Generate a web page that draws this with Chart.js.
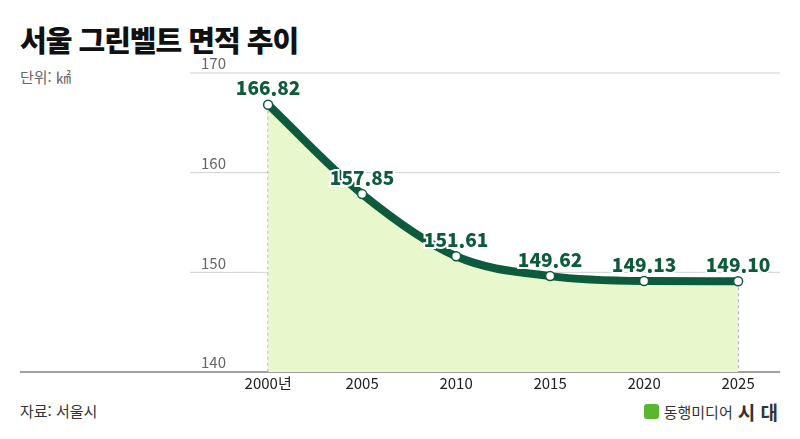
<!DOCTYPE html>
<html lang="ko">
<head>
<meta charset="UTF-8">
<script src="https://cdn.jsdelivr.net/npm/chart.js"></script>
<style>
  body { margin: 0; width: 800px; height: 439px; background: #fff; font-family: "Noto Sans CJK KR", "Noto Sans", sans-serif; position: relative; overflow: hidden; }
  .title { position: absolute; left: 20px; top: 18px; font-size: 29px; font-weight: 900; color: #111; letter-spacing: -1px; }
  .unit { position: absolute; left: 20px; top: 66px; font-size: 15px; color: #666; }
  .source { position: absolute; left: 20px; top: 400px; font-size: 15px; color: #333; }
  .logo { position: absolute; right: 22px; top: 398px; font-size: 15px; color: #333; display: flex; align-items: center; gap: 5px; }
  .logo b { font-size: 19px; }
  .logo i { display: inline-block; width: 15px; height: 15px; background: #5cb531; border-radius: 3px; }
  .wrap { position: absolute; left: 0; top: 0; width: 800px; height: 439px; }
</style>
</head>
<body>
<div class="title">서울 그린벨트 면적 추이</div>
<div class="unit">단위: ㎢</div>
<div class="source">자료: 서울시</div>
<div class="logo"><i></i>동행미디어 <b>시 대</b></div>
<div class="wrap"><canvas id="c"></canvas></div>
<script>
const years = [2000, 2005, 2010, 2015, 2020, 2025];
const areas = [166.82, 157.85, 151.61, 149.62, 149.13, 149.10];
const xLabels = ['2000년', '2005', '2010', '2015', '2020', '2025'];
const yTicks = [140, 150, 160, 170];

const deco = {
  id: 'deco',
  beforeDatasetsDraw(chart) {
    const { ctx, scales: { x, y } } = chart;
    ctx.save();
    yTicks.forEach(t => {
      const py = y.getPixelForValue(t);
      ctx.strokeStyle = t === 140 ? '#444' : '#d0d0d0';
      ctx.lineWidth = 1;
      ctx.beginPath();
      ctx.moveTo(t === 140 ? 20 : 190, py);
      ctx.lineTo(780, py);
      ctx.stroke();
      ctx.fillStyle = '#666';
      ctx.font = '15px "Noto Sans CJK KR"';
      ctx.textAlign = 'right';
      ctx.textBaseline = 'bottom';
      ctx.fillText(String(t), 226, py - 2);
    });
    ctx.setLineDash([3, 3]);
    ctx.strokeStyle = '#777';
    [0, years.length - 1].forEach(i => {
      const px = x.getPixelForValue(years[i]);
      ctx.beginPath();
      ctx.moveTo(px, y.getPixelForValue(areas[i]));
      ctx.lineTo(px, y.getPixelForValue(140));
      ctx.stroke();
    });
    ctx.setLineDash([]);
    ctx.fillStyle = '#222';
    ctx.font = '15px "Noto Sans CJK KR"';
    ctx.textAlign = 'center';
    ctx.textBaseline = 'top';
    years.forEach((yr, i) => ctx.fillText(xLabels[i], x.getPixelForValue(yr), y.getPixelForValue(140) + 4));
    ctx.restore();
  },
  afterDatasetsDraw(chart) {
    const { ctx, scales: { x, y } } = chart;
    ctx.save();
    ctx.font = '900 19px "Noto Sans CJK KR"';
    ctx.textAlign = 'center';
    ctx.textBaseline = 'bottom';
    ctx.lineWidth = 4;
    ctx.strokeStyle = '#fff';
    ctx.fillStyle = '#0e5a3c';
    years.forEach((yr, i) => {
      const px = x.getPixelForValue(yr), py = y.getPixelForValue(areas[i]) - 7;
      ctx.strokeText(areas[i].toFixed(2), px, py);
      ctx.fillText(areas[i].toFixed(2), px, py);
    });
    ctx.restore();
  }
};

new Chart(document.getElementById('c'), {
  type: 'line',
  data: {
    datasets: [{
      data: years.map((yr, i) => ({ x: yr, y: areas[i] })),
      borderColor: '#0e5a3c',
      borderWidth: 8,
      cubicInterpolationMode: 'monotone',
      fill: { value: 140 },
      backgroundColor: '#e8f8cc',
      pointRadius: 4.5,
      pointBackgroundColor: '#fff',
      pointBorderColor: '#0e5a3c',
      pointBorderWidth: 1.5
    }]
  },
  options: {
    responsive: true,
    maintainAspectRatio: false,
    animation: false,
    layout: { padding: { left: 20, right: 20, top: 73, bottom: 67 } },
    plugins: { legend: { display: false }, tooltip: { enabled: false } },
    scales: {
      x: { type: 'linear', min: 1986.8, max: 2027.23, display: false },
      y: { min: 140, max: 170, display: false }
    }
  },
  plugins: [deco]
});
</script>
</body>
</html>
